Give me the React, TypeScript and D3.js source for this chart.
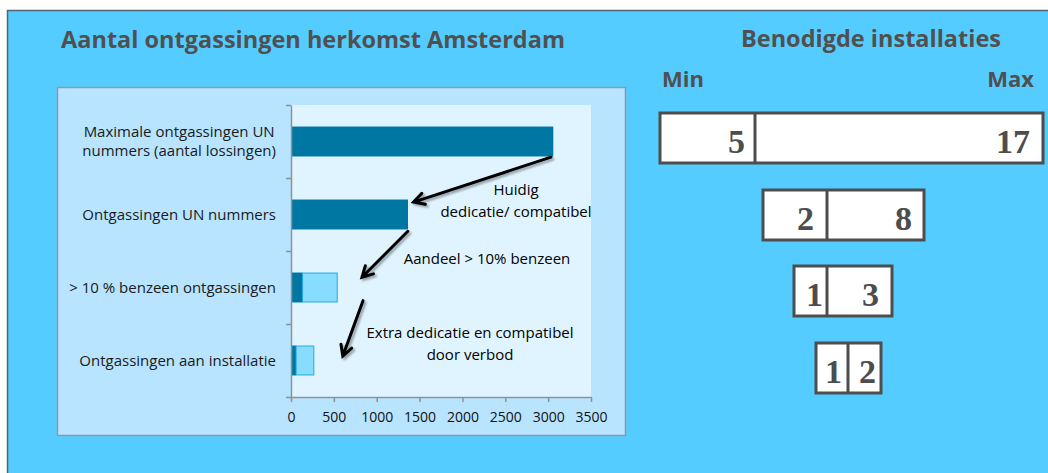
import React, { useEffect, useRef } from 'react'
import * as d3 from 'd3'

// chart data
const chartTitle = 'Aantal ontgassingen herkomst Amsterdam'
const categories = [
  ['Maximale ontgassingen UN', 'nummers (aantal lossingen)'],
  ['Ontgassingen UN nummers'],
  ['> 10 % benzeen ontgassingen'],
  ['Ontgassingen aan installatie'],
]
const baseValues = [3060, 1365, 135, 60]
const extraValues = [0, 0, 410, 212]
const xTicks = [0, 500, 1000, 1500, 2000, 2500, 3000, 3500]

// arrows: [value, category index, fraction inside band]
const arrows = [
  { from: [3033, 0, 0.715], to: [1430, 1, 0.33] },
  { from: [1363, 1, 0.73], to: [828, 2, 0.36] },
  { from: [840, 2, 0.68], to: [604, 3, 0.44] },
]
const noteLines = [
  ['Huidig', 'dedicatie/ compatibel'],
  ['Aandeel > 10% benzeen'],
  ['Extra dedicatie en compatibel', 'door verbod'],
]
const notePos = [
  [516, 195], [487, 264], [470, 338],
]

// installations panel
const installTitle = 'Benodigde installaties'
const minInstall = [5, 2, 1, 1]
const maxInstall = [17, 8, 3, 2]
// box layout: left, divider, right, top, right padding of the two numbers
const boxLayout = [
  { x0: 660, xd: 755, x1: 1043, y: 113, p: [10, 13] },
  { x0: 763, xd: 827, x1: 924, y: 190, p: [13, 12] },
  { x0: 794, xd: 827, x1: 892, y: 266, p: [4, 13] },
  { x0: 816, xd: 848, x1: 881, y: 343, p: [6, 5] },
]

const W = 1048, H = 473

export default function App() {
  const ref = useRef<SVGSVGElement>(null)

  useEffect(() => {
    const svg = d3.select(ref.current)
    svg.selectAll('*').remove()

    // backgrounds
    svg.append('rect').attr('width', W).attr('height', H).attr('fill', '#fff')
    svg.append('rect').attr('x', 7).attr('y', 10).attr('width', W - 7).attr('height', H - 10).attr('fill', '#55CCFF')
    svg.append('path').attr('d', `M7.5,${H} V10.5 H${W}`).attr('fill', 'none').attr('stroke', '#4F6672').attr('stroke-width', 1.5)

    const defs = svg.append('defs')
    defs.append('filter').attr('id', 'shadow').attr('x', '-50%').attr('y', '-50%').attr('width', '200%').attr('height', '200%')
      .append('feDropShadow').attr('dx', 2).attr('dy', 2).attr('stdDeviation', 1.2)
      .attr('flood-color', '#000').attr('flood-opacity', 0.35)

    svg.append('text').attr('x', 313).attr('y', 48).attr('text-anchor', 'middle')
      .style('font-family', 'Open Sans').style('font-weight', 700).style('font-size', '23.5px')
      .attr('fill', '#505050').text(chartTitle)

    // inner panel
    svg.append('rect').attr('x', 57.5).attr('y', 87.5).attr('width', 568).attr('height', 348)
      .attr('fill', '#B8E4FF').attr('stroke', '#8A9AA8').attr('stroke-width', 1.5)

    const margin = { left: 291, top: 105, right: 591, bottom: 397 }
    const x = d3.scaleLinear().domain([0, 3500]).range([margin.left, margin.right])
    const y = d3.scaleBand<number>().domain(d3.range(categories.length)).range([margin.top, margin.bottom])
    const barH = y.bandwidth() * 0.41

    svg.append('rect').attr('x', margin.left).attr('y', margin.top)
      .attr('width', margin.right - margin.left).attr('height', margin.bottom - margin.top)
      .attr('fill', '#E0F4FF')

    const g = svg.append('g')
    // dark part
    g.selectAll('.base').data(baseValues).join('rect').attr('class', 'base')
      .attr('x', x(0)).attr('y', (d, i) => y(i)! + y.bandwidth() / 2 - barH / 2)
      .attr('width', d => x(d) - x(0)).attr('height', barH).attr('fill', '#0077A3')
    // light extra part
    g.selectAll('.extra').data(extraValues).join('rect').attr('class', 'extra')
      .attr('x', (d, i) => x(baseValues[i])).attr('y', (d, i) => y(i)! + y.bandwidth() / 2 - barH / 2 + 0.5)
      .attr('width', d => Math.max(0, x(d) - x(0) - 0.5)).attr('height', barH - 1)
      .attr('fill', '#88DDFF').attr('stroke', d => d > 0 ? '#22AAE0' : 'none').attr('stroke-width', 1)

    // axes
    const xAxis = svg.append('g').attr('transform', `translate(0,${margin.bottom})`)
      .call(d3.axisBottom(x).tickValues(xTicks).tickFormat(d3.format('d')).tickSize(5).tickSizeOuter(0).tickPadding(10))
    xAxis.selectAll('text').style('font-family', 'Open Sans').style('font-size', '14px').attr('fill', '#111')

    const yLin = d3.scaleLinear().domain([0, categories.length]).range([margin.top, margin.bottom])
    const yAxis = svg.append('g').attr('transform', `translate(${margin.left},0)`)
      .call(d3.axisLeft(yLin).ticks(categories.length).tickFormat(() => '').tickSize(5).tickSizeOuter(0))
    ;[xAxis, yAxis].forEach(a => {
      a.select('.domain').attr('stroke', '#8C9298').attr('stroke-width', 1.5)
      a.selectAll('.tick line').attr('stroke', '#8C9298').attr('stroke-width', 1.5)
    })

    // category labels
    categories.forEach((lines, i) => {
      const cy = y(i)! + y.bandwidth() / 2
      const t = svg.append('text').attr('text-anchor', 'middle')
        .style('font-family', 'Open Sans').style('font-size', '15px').attr('fill', '#1a1a1a')
      lines.forEach((ln, j) => {
        t.append('tspan').attr('y', cy + 5 + (j - (lines.length - 1) / 2) * 19).text(ln)
      })
      const widths = t.selectAll<SVGTSpanElement, unknown>('tspan').nodes().map(n => n.getComputedTextLength())
      const cx = 276 - d3.max(widths)! / 2
      t.selectAll('tspan').attr('x', cx)
    })

    // arrows
    const pt = (a: number[]) => [x(a[0]), y(a[1])! + y.bandwidth() * a[2]]
    const ag = svg.append('g').attr('filter', 'url(#shadow)')
    arrows.forEach(a => {
      const [x1, y1] = pt(a.from), [x2, y2] = pt(a.to)
      const ang = Math.atan2(y2 - y1, x2 - x1)
      const L = 12, s = 0.5
      const h1 = [x2 - L * Math.cos(ang - s), y2 - L * Math.sin(ang - s)]
      const h2 = [x2 - L * Math.cos(ang + s), y2 - L * Math.sin(ang + s)]
      ag.append('path')
        .attr('d', `M${x1},${y1}L${x2},${y2}M${h1[0]},${h1[1]}L${x2},${y2}L${h2[0]},${h2[1]}`)
        .attr('fill', 'none').attr('stroke', '#000').attr('stroke-width', 3)
        .attr('stroke-linecap', 'round').attr('stroke-linejoin', 'miter')
    })

    noteLines.forEach((lines, i) => {
      const t = svg.append('text').attr('text-anchor', 'middle')
        .style('font-family', 'Open Sans').style('font-size', '15px').attr('fill', '#000')
      lines.forEach((ln, j) => {
        t.append('tspan').attr('x', notePos[i][0]).attr('y', notePos[i][1] + j * 21.5).text(ln)
      })
    })

    // installations panel
    svg.append('text').attr('x', 871).attr('y', 47).attr('text-anchor', 'middle')
      .style('font-family', 'Open Sans').style('font-weight', 700).style('font-size', '23.5px')
      .attr('fill', '#505050').text(installTitle)
    svg.append('text').attr('x', 662).attr('y', 87)
      .style('font-family', 'Open Sans').style('font-weight', 700).style('font-size', '22px')
      .attr('fill', '#505050').text('Min')
    svg.append('text').attr('x', 1034).attr('y', 87).attr('text-anchor', 'end')
      .style('font-family', 'Open Sans').style('font-weight', 700).style('font-size', '22px')
      .attr('fill', '#505050').text('Max')

    const bg = svg.append('g')
    boxLayout.forEach((b, i) => {
      const h = 50
      bg.append('rect').attr('x', b.x0).attr('y', b.y).attr('width', b.x1 - b.x0).attr('height', h)
        .attr('fill', '#fff').attr('stroke', '#4D4D4D').attr('stroke-width', 3)
      bg.append('line').attr('x1', b.xd).attr('x2', b.xd).attr('y1', b.y).attr('y2', b.y + h)
        .attr('stroke', '#4D4D4D').attr('stroke-width', 3)
      const vals = [minInstall[i], maxInstall[i]]
      const rights = [b.xd - b.p[0], b.x1 - b.p[1]]
      vals.forEach((v, j) => {
        bg.append('text').attr('x', rights[j]).attr('y', b.y + 40).attr('text-anchor', 'end')
          .style('font-family', 'Liberation Serif').style('font-weight', 700).style('font-size', '34px')
          .attr('fill', '#4D4D4D').text(v)
      })
    })
  }, [])

  return (
    <svg ref={ref} width={W} height={H} style={{ position: 'absolute', left: 0, top: 0, display: 'block' }} />
  )
}
